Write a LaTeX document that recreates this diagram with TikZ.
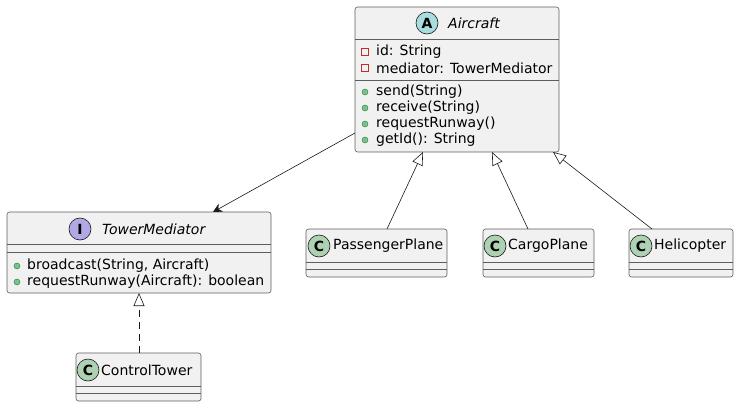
\documentclass[tikz,border=0pt]{standalone}
\usepackage{fontspec}
\setmainfont{DejaVu Sans}
\usetikzlibrary{arrows.meta}
\definecolor{boxfill}{HTML}{F1F1F1}
\definecolor{boxline}{HTML}{181818}
\definecolor{absc}{HTML}{A9DCDF}
\definecolor{intc}{HTML}{B4A7E5}
\definecolor{clsc}{HTML}{ADD1B2}
\definecolor{privc}{HTML}{C82930}
\definecolor{pubf}{HTML}{84BE84}
\definecolor{pubd}{HTML}{038048}
\begin{document}
\begin{tikzpicture}[x=1pt,y=-1pt,
  umlbox/.style={draw=boxline!70,fill=boxfill,rounded corners=2.5pt,line width=0.6pt,inner sep=0pt},
  sep/.style={draw=boxline!70,line width=0.6pt},
  icon/.style={circle,draw=boxline,line width=0.6pt,minimum size=22pt,inner sep=0pt,font=\bfseries\fontsize{14}{14}\selectfont},
  txt/.style={anchor=west,inner sep=0pt,font=\fontsize{14}{16}\selectfont},
  ttl/.style={anchor=west,inner sep=0pt,font=\itshape\fontsize{14}{16}\selectfont},
  pub/.style={circle,fill=pubf,draw=pubd,line width=0.4pt,minimum size=6pt,inner sep=0pt},
  priv/.style={rectangle,draw=privc,line width=0.6pt,minimum size=6.5pt,inner sep=0pt},
  inh/.style={draw=boxline,line width=0.6pt,-{Triangle[open,length=13pt,width=11pt]}},
  assoc/.style={draw=boxline,line width=0.6pt,-{Stealth[length=9pt,width=9pt]}}
]
\useasboundingbox (0,0) rectangle (739,407);

% Aircraft
\node[umlbox,minimum width=204pt,minimum height=145pt] (air) at (457,79.5) {};
\draw[sep] (355,39) -- (559,39);
\draw[sep] (355,80) -- (559,80);
\node[icon,fill=absc] (airi) at (427,23) {A};
\node[ttl] (airt) at (448,23) {Aircraft};
\node[priv] (am1) at (365,52) {};
\node[txt] (at1) at (376,52) {id: String};
\node[priv] (am2) at (365,68) {};
\node[txt] (at2) at (376,68) {mediator: TowerMediator};
\node[pub] (ap1) at (365,92) {};
\node[txt] (ao1) at (376,92) {send(String)};
\node[pub] (ap2) at (365,108) {};
\node[txt] (ao2) at (376,108) {receive(String)};
\node[pub] (ap3) at (365,124) {};
\node[txt] (ao3) at (376,124) {requestRunway()};
\node[pub] (ap4) at (365,140) {};
\node[txt] (ao4) at (376,140) {getId(): String};

% TowerMediator
\node[umlbox,minimum width=264pt,minimum height=81pt] (tm) at (139,252.5) {};
\draw[sep] (7,244) -- (271,244);
\draw[sep] (7,252) -- (271,252);
\node[icon,fill=intc] (tmi) at (80,229) {I};
\node[ttl] (tmt) at (102,229) {TowerMediator};
\node[pub] (tp1) at (17,266) {};
\node[txt] (to1) at (27,266) {broadcast(String, Aircraft)};
\node[pub] (tp2) at (17,282) {};
\node[txt] (to2) at (27,282) {requestRunway(Aircraft): boolean};

% PassengerPlane
\node[umlbox,minimum width=141pt,minimum height=48pt] (pp) at (376.5,253) {};
\draw[sep] (306,262) -- (447,262);
\draw[sep] (306,269) -- (447,269);
\node[icon,fill=clsc] (ppi) at (319,246) {C};
\node[txt] (ppt) at (333,246) {PassengerPlane};

% CargoPlane
\node[umlbox,minimum width=111pt,minimum height=48pt] (cp) at (538.5,253) {};
\draw[sep] (483,262) -- (594,262);
\draw[sep] (483,269) -- (594,269);
\node[icon,fill=clsc] (cpi) at (495,246) {C};
\node[txt] (cpt) at (508,246) {CargoPlane};

% Helicopter
\node[umlbox,minimum width=104pt,minimum height=48pt] (hc) at (681,253) {};
\draw[sep] (629,262) -- (733,262);
\draw[sep] (629,269) -- (733,269);
\node[icon,fill=clsc] (hci) at (641,246) {C};
\node[txt] (hct) at (654,246) {Helicopter};

% ControlTower
\node[umlbox,minimum width=125pt,minimum height=48pt] (ct) at (138.5,377) {};
\draw[sep] (76,386) -- (201,386);
\draw[sep] (76,393) -- (201,393);
\node[icon,fill=clsc] (cti) at (88,370) {C};
\node[txt] (ctt) at (101,370) {ControlTower};

% connectors
\coordinate (aA) at (355,133);
\coordinate (aB) at (213,212);
\draw[assoc] (aA) -- (aB);
\coordinate (p1) at (387,229);
\coordinate (p2) at (423,152);
\draw[inh] (p1) -- (p2);
\coordinate (c1) at (528,229);
\coordinate (c2) at (492,152);
\draw[inh] (c1) -- (c2);
\coordinate (h1) at (652,229);
\coordinate (h2) at (553,152);
\draw[inh] (h1) -- (h2);
\coordinate (t1) at (139,353);
\coordinate (t2) at (139,293);
\draw[inh,dash pattern=on 7pt off 5pt] (t1) -- (t2);
\end{tikzpicture}
\end{document}
